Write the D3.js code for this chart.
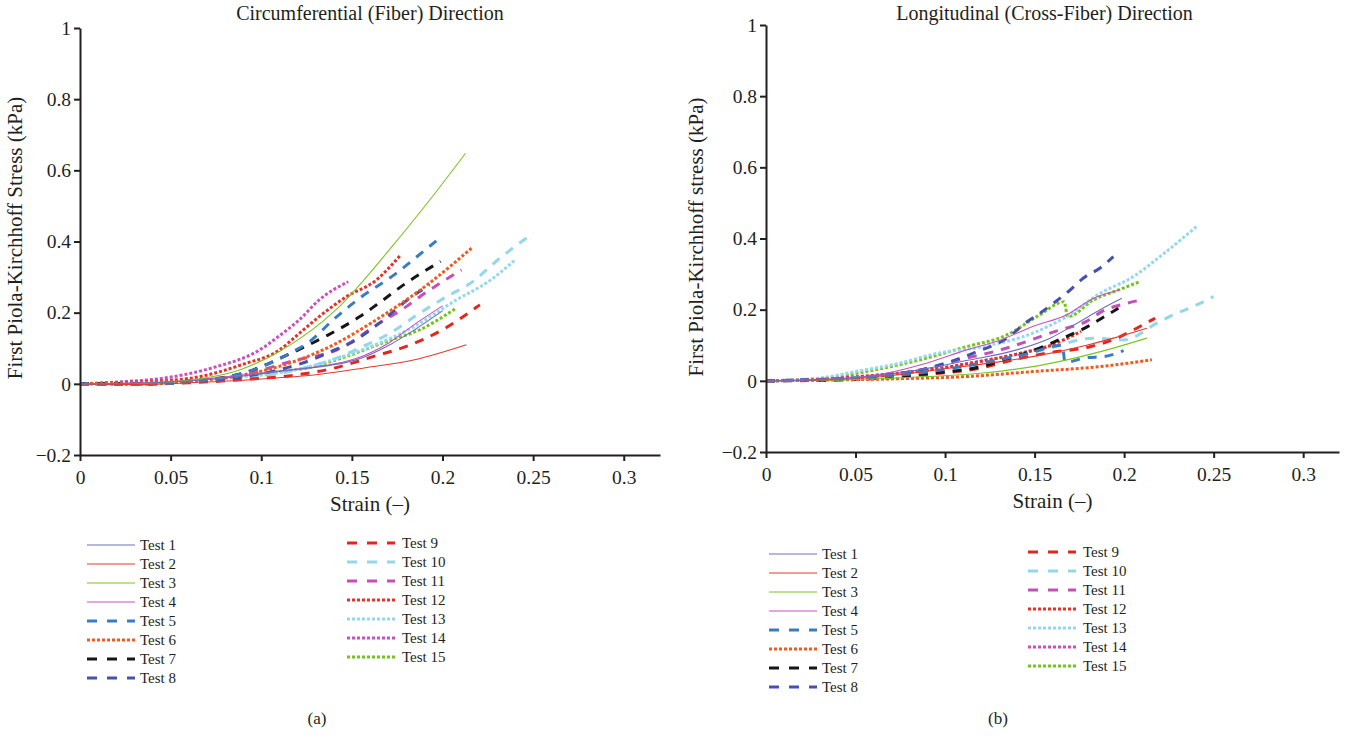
<!DOCTYPE html>
<html>
<head>
<meta charset="utf-8">
<script src="https://cdn.jsdelivr.net/npm/d3@7"></script>
<style>
  body { margin: 0; background: #fff; }
  text { font-family: "Liberation Serif", "Times New Roman", serif; fill: #231f20; }
</style>
</head>
<body>
<div id="chart"></div>
<script>
// test names + styles
var testNames = ["Test 1", "Test 2", "Test 3", "Test 4", "Test 5", "Test 6", "Test 7", "Test 8",
  "Test 9", "Test 10", "Test 11", "Test 12", "Test 13", "Test 14", "Test 15"];
var testColors = ["#6b70bd", "#e8382b", "#7cc520", "#c951c1", "#3a7cc4", "#f05a1e", "#161616", "#4551b1",
  "#e0271f", "#93d7ea", "#c64fb5", "#e8302a", "#93d8ec", "#c950c0", "#76c31a"];
var testStyles = ["solid", "solid", "solid", "solid", "dash", "dot", "dash", "dash",
  "dash", "dash", "dash", "dot", "dot", "dot", "dot"];

var xTicks = [0, 0.05, 0.1, 0.15, 0.2, 0.25, 0.3];
var yTicks = [-0.2, 0, 0.2, 0.4, 0.6, 0.8, 1];

// (a) circumferential, [strain, stress] per test
var circData = [
  [[0,0],[0.03,0.002],[0.06,0.008],[0.09,0.022],[0.11,0.035],[0.1526,0.068],[0.171,0.11],[0.184,0.15],[0.2,0.205]],
  [[0,0],[0.03,-0.002],[0.06,0.003],[0.09,0.01],[0.11,0.017],[0.129,0.025],[0.156,0.044],[0.184,0.067],[0.2132,0.11]],
  [[0,0],[0.03,0],[0.06,0.01],[0.088,0.039],[0.11,0.091],[0.1416,0.21],[0.1728,0.39],[0.195,0.53],[0.2127,0.648]],
  [[0,0],[0.03,0.002],[0.06,0.01],[0.09,0.025],[0.11,0.036],[0.1526,0.072],[0.171,0.117],[0.184,0.165],[0.2,0.219]],
  [[0,0],[0.03,-0.002],[0.06,0.005],[0.09,0.03],[0.1177,0.091],[0.127,0.12],[0.1397,0.18],[0.1544,0.241],[0.1746,0.311],[0.1865,0.36],[0.1995,0.414]],
  [[0,0],[0.03,0.003],[0.06,0.008],[0.09,0.025],[0.1195,0.065],[0.14,0.11],[0.165,0.185],[0.192,0.28],[0.216,0.381]],
  [[0,0],[0.03,0],[0.06,0.008],[0.09,0.03],[0.116,0.085],[0.136,0.135],[0.1544,0.189],[0.1636,0.222],[0.181,0.287],[0.199,0.344]],
  [[0,0],[0.03,0],[0.06,0.005],[0.09,0.02],[0.11,0.04],[0.129,0.07],[0.138,0.09],[0.149,0.114],[0.165,0.17],[0.182,0.241],[0.193,0.278]],
  [[0,0],[0.03,0],[0.06,0.003],[0.09,0.012],[0.1195,0.025],[0.14,0.044],[0.162,0.077],[0.18,0.105],[0.2,0.152],[0.2206,0.222]],
  [[0,0],[0.03,0.001],[0.06,0.006],[0.09,0.015],[0.12,0.04],[0.1415,0.072],[0.156,0.105],[0.171,0.142],[0.1875,0.199],[0.204,0.25],[0.215,0.281],[0.2316,0.353],[0.25,0.423]],
  [[0,0],[0.03,0],[0.06,0.006],[0.09,0.025],[0.1177,0.065],[0.1415,0.095],[0.165,0.17],[0.18,0.217],[0.1875,0.245],[0.2,0.287],[0.2105,0.32]],
  [[0,0],[0.03,0.005],[0.06,0.015],[0.09,0.055],[0.11,0.095],[0.121,0.142],[0.132,0.189],[0.147,0.245],[0.1636,0.292],[0.1765,0.36]],
  [[0,0],[0.03,0.002],[0.06,0.008],[0.09,0.02],[0.11,0.031],[0.147,0.08],[0.184,0.16],[0.2077,0.236],[0.2261,0.29],[0.24,0.348]],
  [[0,0],[0.02,0.005],[0.045,0.015],[0.073,0.045],[0.099,0.095],[0.11,0.135],[0.121,0.18],[0.132,0.236],[0.148,0.287]],
  [[0,0],[0.03,-0.002],[0.06,0.006],[0.09,0.022],[0.11,0.035],[0.125,0.044],[0.147,0.077],[0.169,0.119],[0.1875,0.152],[0.2068,0.21]]
];

// (b) longitudinal
var longData = [
  [[0,0],[0.03,0.003],[0.06,0.012],[0.09,0.035],[0.112,0.057],[0.14,0.087],[0.1587,0.12],[0.1754,0.167],[0.1866,0.2],[0.1987,0.232]],
  [[0,0],[0.03,0.002],[0.06,0.01],[0.103,0.036],[0.131,0.054],[0.149,0.068],[0.179,0.1],[0.194,0.12],[0.2127,0.148]],
  [[0,0],[0.03,0.001],[0.06,0.005],[0.09,0.012],[0.121,0.022],[0.149,0.04],[0.168,0.059],[0.194,0.092],[0.2127,0.12]],
  [[0,0],[0.03,0.004],[0.06,0.015],[0.09,0.05],[0.112,0.087],[0.131,0.115],[0.149,0.153],[0.168,0.186],[0.183,0.232],[0.1978,0.256]],
  [[0,0],[0.03,0.003],[0.06,0.01],[0.09,0.025],[0.12,0.05],[0.145,0.075],[0.1655,0.1],[0.167,0.052],[0.179,0.065],[0.1885,0.068],[0.1997,0.085]],
  [[0,0],[0.03,0.002],[0.075,0.006],[0.112,0.012],[0.149,0.026],[0.1866,0.04],[0.2155,0.059]],
  [[0,0],[0.03,0.002],[0.06,0.008],[0.09,0.02],[0.12,0.04],[0.136,0.064],[0.1475,0.082],[0.168,0.125],[0.178,0.148],[0.1875,0.176],[0.1968,0.204]],
  [[0,0],[0.03,0.004],[0.06,0.012],[0.09,0.035],[0.1158,0.078],[0.136,0.125],[0.1447,0.162],[0.153,0.19],[0.1605,0.218],[0.17,0.256],[0.1773,0.289],[0.1866,0.317],[0.194,0.349]],
  [[0,0],[0.03,0.001],[0.06,0.006],[0.09,0.018],[0.12,0.036],[0.138,0.059],[0.157,0.078],[0.181,0.096],[0.196,0.12],[0.2052,0.143],[0.2173,0.176]],
  [[0,0],[0.03,0.004],[0.06,0.012],[0.09,0.025],[0.12,0.045],[0.155,0.087],[0.183,0.12],[0.1997,0.115],[0.2183,0.162],[0.2276,0.186],[0.2387,0.209],[0.25,0.237]],
  [[0,0],[0.03,0.004],[0.06,0.012],[0.09,0.035],[0.108,0.059],[0.131,0.087],[0.164,0.143],[0.179,0.167],[0.1877,0.195],[0.2015,0.218],[0.21,0.228]],
  [[0,0],[0.03,0.004],[0.06,0.015],[0.09,0.03],[0.12,0.055],[0.14,0.075],[0.157,0.096],[0.176,0.139]],
  [[0,0],[0.03,0.008],[0.05,0.026],[0.075,0.05],[0.0935,0.075],[0.121,0.096],[0.149,0.134],[0.168,0.181],[0.1866,0.246],[0.2052,0.293],[0.22,0.349],[0.2406,0.434]],
  [[0,0],[0.03,0.005],[0.06,0.015],[0.09,0.03],[0.12,0.055],[0.14,0.075],[0.16,0.1]],
  [[0,0],[0.03,0.006],[0.06,0.03],[0.086,0.059],[0.112,0.096],[0.1345,0.129],[0.153,0.186],[0.1665,0.222],[0.1685,0.18],[0.183,0.228],[0.194,0.25],[0.209,0.279]]
];

var svg = d3.select("#chart").append("svg")
  .attr("width", 1349)
  .attr("height", 738);

function dashFor(style) {
  if (style === "dash") return "9,8";
  if (style === "dot") return "3,2";
  return null;
}
function widthFor(style) {
  return style === "solid" ? 1.1 : 3;
}

function drawPanel(opts) {
  var x = d3.scaleLinear().domain([0, 0.32]).range([0, opts.w]);
  var y = d3.scaleLinear().domain([-0.2, 1]).range([opts.h, 0]);

  var g = svg.append("g").attr("transform", `translate(${opts.left}, ${opts.top})`);

  var line = d3.line()
    .x(d => x(d[0]))
    .y(d => y(d[1]))
    .curve(d3.curveMonotoneX);

  // draw in reverse so tests 1-4 stay on top
  var order = d3.range(opts.data.length).reverse();
  order.forEach(function(i) {
    g.append("path")
      .attr("d", line(opts.data[i]))
      .attr("fill", "none")
      .attr("stroke", testColors[i])
      .attr("stroke-width", widthFor(testStyles[i]))
      .attr("stroke-dasharray", dashFor(testStyles[i]));
  });

  var fmt = d3.format("~g");
  var xAxis = g.append("g")
    .attr("transform", `translate(0, ${opts.h})`)
    .call(d3.axisBottom(x).tickValues(xTicks).tickFormat(fmt).tickSize(6).tickSizeOuter(0));
  var yAxis = g.append("g")
    .call(d3.axisLeft(y).tickValues(yTicks).tickFormat(fmt).tickSize(6).tickSizeOuter(0));

  [xAxis, yAxis].forEach(function(a) {
    a.select(".domain").attr("stroke", "#231f20").attr("stroke-width", 2);
    a.selectAll(".tick line").attr("stroke", "#231f20").attr("stroke-width", 2);
    a.selectAll(".tick text")
      .style("font-family", "Liberation Serif, serif")
      .style("font-size", "19.5px")
      .attr("fill", "#231f20");
  });
  xAxis.selectAll(".tick text").attr("dy", "1.05em");
  yAxis.selectAll(".tick text").attr("x", -9);

  svg.append("text")
    .attr("x", opts.left + opts.w / 2 + opts.titleDx)
    .attr("y", 20)
    .attr("text-anchor", "middle")
    .style("font-size", "20px")
    .text(opts.title);

  g.append("text")
    .attr("x", opts.w / 2)
    .attr("y", opts.h + 56)
    .attr("text-anchor", "middle")
    .style("font-size", "21px")
    .text("Strain (–)");

  g.append("text")
    .attr("transform", "rotate(-90)")
    .attr("x", -opts.ylabMid)
    .attr("y", opts.ylabX - opts.left)
    .attr("text-anchor", "middle")
    .style("font-size", "21px")
    .text(opts.ylabel);

  // legend
  var lg = svg.append("g");
  testNames.forEach(function(name, i) {
    var col = i < 8 ? 0 : 1;
    var row = i < 8 ? i : i - 8;
    var lx = opts.legX[col];
    var ly = opts.legY[col] + row * 19;
    lg.append("line")
      .attr("x1", lx).attr("x2", lx + 48)
      .attr("y1", ly).attr("y2", ly)
      .attr("stroke", testColors[i])
      .attr("stroke-width", testStyles[i] === "solid" ? 1.2 : 3)
      .attr("stroke-dasharray", testStyles[i] === "dash" ? "10,10" : (testStyles[i] === "dot" ? "3,2" : null));
    lg.append("text")
      .attr("x", lx + (col === 0 ? 53 : 55))
      .attr("y", ly + 5)
      .style("font-size", "15px")
      .text(name);
  });

  svg.append("text")
    .attr("x", opts.capX)
    .attr("y", 724)
    .attr("text-anchor", "middle")
    .style("font-size", "17px")
    .text(opts.caption);
}

drawPanel({
  left: 80, top: 28, w: 580, h: 427,
  data: circData,
  title: "Circumferential (Fiber) Direction", titleDx: 0,
  ylabel: "First Piola-Kirchhoff Stress (kPa)",
  ylabX: 22, ylabMid: 210,
  legX: [87, 347], legY: [545, 543],
  capX: 317, caption: "(a)"
});

drawPanel({
  left: 766, top: 25, w: 573, h: 427,
  data: longData,
  title: "Longitudinal (Cross-Fiber) Direction", titleDx: -8,
  ylabel: "First Piola-Kirchhoff stress (kPa)",
  ylabX: 703, ylabMid: 212,
  legX: [769, 1028], legY: [554, 552],
  capX: 998, caption: "(b)"
});
</script>
</body>
</html>
